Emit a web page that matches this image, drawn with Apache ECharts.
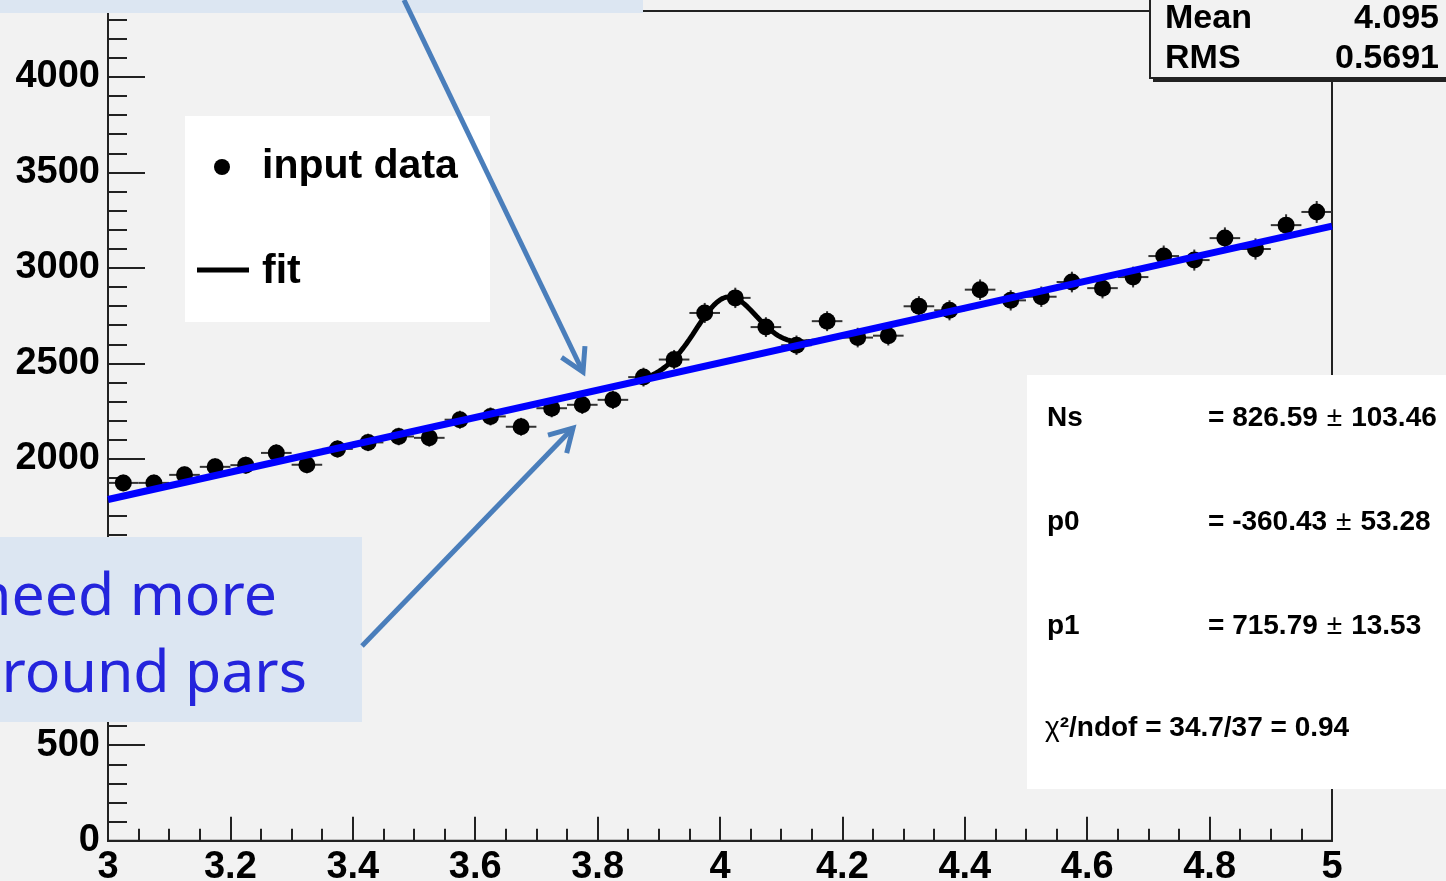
<!DOCTYPE html>
<html>
<head>
<meta charset="utf-8">
<script src="https://cdn.jsdelivr.net/npm/echarts@6/dist/echarts.min.js"></script>
<style>
  html, body { margin: 0; padding: 0; background: #f2f2f2; }
  #chart { width: 1446px; height: 881px; }
</style>
</head>
<body>
<div id="chart"></div>
<script>
// Histogram bins (width 0.05) between 3 and 5
const binCenters = [3.025, 3.075, 3.125, 3.175, 3.225, 3.275, 3.325, 3.375, 3.425, 3.475,
                    3.525, 3.575, 3.625, 3.675, 3.725, 3.775, 3.825, 3.875, 3.925, 3.975,
                    4.025, 4.075, 4.125, 4.175, 4.225, 4.275, 4.325, 4.375, 4.425, 4.475,
                    4.525, 4.575, 4.625, 4.675, 4.725, 4.775, 4.825, 4.875, 4.925, 4.975];
// Entries per bin
const binCounts = [1874, 1874, 1916, 1958, 1967, 2031, 1969, 2052, 2086, 2117,
                   2110, 2205, 2222, 2168, 2265, 2283, 2309, 2428, 2520, 2764,
                   2843, 2690, 2595, 2721, 2635, 2645, 2799, 2778, 2886, 2830,
                   2849, 2926, 2894, 2952, 3062, 3041, 3156, 3099, 3224, 3293];
const binWidth = 0.05;

// Fit results: linear background p0 + p1*x plus a Gaussian signal of Ns events
const fitNames  = ['Ns', 'p0', 'p1'];
const fitValues = [826.59, -360.43, 715.79];
const fitErrors = [103.46, 53.28, 13.53];
const chi2 = 34.7, ndof = 37;
const peakMean = 4.01, peakSigma = 0.049;

// Histogram statistics
const statNames  = ['Mean', 'RMS'];
const statValues = ['4.095', '0.5691'];

// Axis ticks
const xTickLabels = ['3', '3.2', '3.4', '3.6', '3.8', '4', '4.2', '4.4', '4.6', '4.8', '5'];
const yTickLabels = ['0', '500', '1000', '1500', '2000', '2500', '3000', '3500', '4000', '4500'];

const [Ns, p0, p1] = fitValues;
const background = x => p0 + p1 * x;
const totalFit = x => background(x) +
  Ns * binWidth / (Math.sqrt(2 * Math.PI) * peakSigma) *
  Math.exp(-0.5 * Math.pow((x - peakMean) / peakSigma, 2));

const histData = binCenters.map((x, i) => [x, binCounts[i], Math.sqrt(binCounts[i])]);
const totalCurve = [];
for (let k = 0; k <= 400; k++) {
  const x = 3 + k * 0.005;
  totalCurve.push([x, totalFit(x)]);
}
const bgLine = [[3, background(3)], [5, background(5)]];

const FONT = "'Liberation Sans', Arial, sans-serif";
const NOTE_FONT = "'Noto Sans', 'DejaVu Sans', sans-serif";
const NOTE_FILL = '#dce6f2';
const NOTE_TEXT = '#2424dc';
const ARROW = '#4a7ebb';

function arrow(x1, y1, x2, y2) {
  const a = Math.atan2(y2 - y1, x2 - x1);
  const L = 26, w = Math.PI / 6;
  const h1 = [x2 - L * Math.cos(a - w), y2 - L * Math.sin(a - w)];
  const h2 = [x2 - L * Math.cos(a + w), y2 - L * Math.sin(a + w)];
  return [
    { type: 'line', z: 110, shape: { x1, y1, x2, y2 },
      style: { stroke: ARROW, lineWidth: 5 } },
    { type: 'polyline', z: 110, shape: { points: [h1, [x2, y2], h2] },
      style: { stroke: ARROW, lineWidth: 5, fill: null, lineJoin: 'miter' } }
  ];
}

const fitRowY = [418, 522, 626];
const fitText = fitNames.map((n, i) => [
  { type: 'text', z: 105, x: 1047, y: fitRowY[i],
    style: { text: n, font: `bold 28px ${FONT}`, fill: '#000', verticalAlign: 'middle' } },
  { type: 'text', z: 105, x: 1208, y: fitRowY[i],
    style: {
      text: `{v|= ${fitValues[i].toFixed(2)}}{pm|±}{v|${fitErrors[i].toFixed(2)}}`,
      verticalAlign: 'middle',
      rich: {
        v: { font: `bold 28px ${FONT}`, fill: '#000' },
        pm: { font: `28px ${FONT}`, fill: '#000', padding: [0, 9] }
      }
    } }
]).flat();

const chart = echarts.init(document.getElementById('chart'));
chart.setOption({
  animation: false,
  backgroundColor: '#f2f2f2',
  grid: [
    { left: 108, right: 114, top: -18.5, bottom: 40.3, show: false,
      containLabel: false, outerBoundsMode: 'none' },
    { left: 108, right: 114, top: 11, bottom: 40.3, show: true,
      containLabel: false, outerBoundsMode: 'none',
      borderColor: '#222', borderWidth: 2, backgroundColor: 'transparent' }
  ],
  xAxis: [
    {
      type: 'value', gridIndex: 0, min: 3, max: 5, interval: 0.2,
      axisLine: { lineStyle: { color: '#222', width: 2 } },
      axisTick: { inside: true, length: 24, lineStyle: { color: '#222', width: 2 } },
      minorTick: { show: true, splitNumber: 4, length: 12, lineStyle: { color: '#222', width: 2 } },
      splitLine: { show: false },
      axisLabel: {
        margin: 8, color: '#000', fontFamily: FONT, fontWeight: 'bold', fontSize: 38,
        formatter: (v) => xTickLabels[Math.round((v - 3) / 0.2)]
      }
    },
    { type: 'value', gridIndex: 1, min: 3, max: 5, show: false }
  ],
  yAxis: [
    {
      type: 'value', gridIndex: 0, min: 0, max: 4500, interval: 500,
      axisLine: { show: true, lineStyle: { color: '#222', width: 2 } },
      axisTick: { show: true, inside: true, length: 37, lineStyle: { color: '#222', width: 2 } },
      minorTick: { show: true, splitNumber: 5, length: 19, lineStyle: { color: '#222', width: 2 } },
      splitLine: { show: false },
      axisLabel: {
        margin: 8, color: '#000', fontFamily: FONT,
        fontWeight: 'bold', fontSize: 38, showMaxLabel: false,
        formatter: (v) => yTickLabels[Math.round(v / 500)]
      }
    },
    { type: 'value', gridIndex: 1, min: 0, max: 1, show: false }
  ],
  series: [
    {
      type: 'custom', name: 'errors', xAxisIndex: 0, yAxisIndex: 0, z: 1,
      data: histData,
      renderItem: (params, api) => {
        const x = api.value(0), y = api.value(1), e = api.value(2);
        const l = api.coord([x - binWidth / 2, y]);
        const r = api.coord([x + binWidth / 2, y]);
        const t = api.coord([x, y + e]);
        const b = api.coord([x, y - e]);
        const st = { stroke: '#333', lineWidth: 2 };
        return { type: 'group', children: [
          { type: 'line', shape: { x1: l[0], y1: l[1], x2: r[0], y2: r[1] }, style: st },
          { type: 'line', shape: { x1: t[0], y1: t[1], x2: b[0], y2: b[1] }, style: st }
        ] };
      }
    },
    {
      type: 'scatter', name: 'input data', z: 2, data: histData,
      symbol: 'circle', symbolSize: 17, itemStyle: { color: '#000', opacity: 1 }
    },
    {
      type: 'line', name: 'fit', z: 3, data: totalCurve, showSymbol: false,
      lineStyle: { color: '#000', width: 5 }
    },
    {
      type: 'line', name: 'background', z: 4, data: bgLine, showSymbol: false,
      lineStyle: { color: '#0000ff', width: 7 }
    }
  ],
  graphic: [
    // note boxes
    { type: 'rect', z: 100, shape: { x: 0, y: 0, width: 643, height: 13 }, style: { fill: NOTE_FILL } },
    { type: 'rect', z: 100, shape: { x: 0, y: 537, width: 362, height: 185 }, style: { fill: NOTE_FILL } },
    { type: 'text', z: 105, x: 277, y: 598,
      style: { text: 'need more', font: `59px ${NOTE_FONT}`, fill: NOTE_TEXT, align: 'right', verticalAlign: 'middle' } },
    { type: 'text', z: 105, x: 307, y: 675,
      style: { text: 'background pars', font: `59px ${NOTE_FONT}`, fill: NOTE_TEXT, align: 'right', verticalAlign: 'middle' } },
    ...arrow(404, 0, 583, 372),
    ...arrow(362, 646, 573, 428),

    // legend
    { type: 'rect', z: 100, shape: { x: 185, y: 116, width: 305, height: 206 }, style: { fill: '#ffffff' } },
    { type: 'circle', z: 105, shape: { cx: 222, cy: 167, r: 8 }, style: { fill: '#000' } },
    { type: 'text', z: 105, x: 262, y: 167,
      style: { text: 'input data', font: `bold 41px ${FONT}`, fill: '#000', verticalAlign: 'middle' } },
    { type: 'line', z: 105, shape: { x1: 197, y1: 270, x2: 249, y2: 270 }, style: { stroke: '#000', lineWidth: 5 } },
    { type: 'text', z: 105, x: 262, y: 272,
      style: { text: 'fit', font: `bold 41px ${FONT}`, fill: '#000', verticalAlign: 'middle' } },

    // statistics box
    { type: 'rect', z: 100, shape: { x: 1153, y: 0, width: 310, height: 82 }, style: { fill: '#222' } },
    { type: 'rect', z: 101, shape: { x: 1150, y: -5, width: 310, height: 83 },
      style: { fill: '#f2f2f2', stroke: '#222', lineWidth: 2 } },
    ...statNames.map((n, i) => [
      { type: 'text', z: 105, x: 1165, y: 19 + 40 * i,
        style: { text: n, font: `bold 34px ${FONT}`, fill: '#000', verticalAlign: 'middle' } },
      { type: 'text', z: 105, x: 1439, y: 19 + 40 * i,
        style: { text: statValues[i], font: `bold 34px ${FONT}`, fill: '#000', align: 'right', verticalAlign: 'middle' } }
    ]).flat(),

    // fit parameter box
    { type: 'rect', z: 100, shape: { x: 1027, y: 375, width: 430, height: 414 }, style: { fill: '#ffffff' } },
    ...fitText,
    { type: 'text', z: 105, x: 1045, y: 728,
      style: {
        text: `{c|χ}{v|²/ndof = ${chi2}/${ndof} = ${(chi2 / ndof).toFixed(2)}}`,
        verticalAlign: 'middle',
        rich: {
          c: { font: `28px ${FONT}`, fill: '#000' },
          v: { font: `bold 28px ${FONT}`, fill: '#000' }
        }
      } }
  ]
});
</script>
</body>
</html>
